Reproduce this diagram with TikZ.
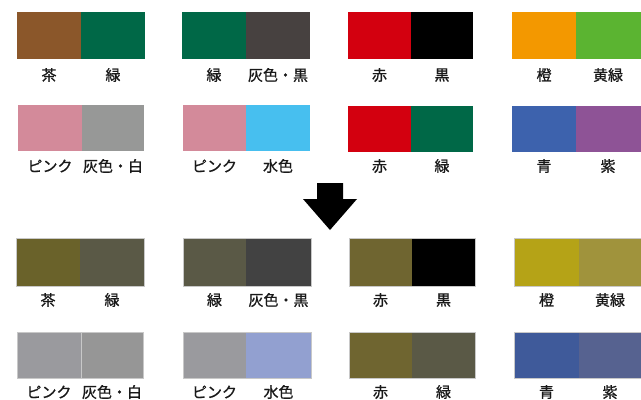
\documentclass[tikz,border=0pt]{standalone}
\usepackage{fontspec}
\newfontfamily\jp{Noto Sans CJK JP}[FakeBold=0.9]
\definecolor{cChaT}{RGB}{139,87,42}
\definecolor{cMidoriT}{RGB}{0,104,71}
\definecolor{cHaiKuroT}{RGB}{71,65,64}
\definecolor{cAkaT}{RGB}{211,0,15}
\definecolor{cKuroT}{RGB}{0,0,0}
\definecolor{cDaiT}{RGB}{243,152,0}
\definecolor{cKimidoriT}{RGB}{91,180,49}
\definecolor{cPinkT}{RGB}{211,138,154}
\definecolor{cHaiShiroT}{RGB}{151,152,151}
\definecolor{cMizuT}{RGB}{71,191,239}
\definecolor{cAoT}{RGB}{61,98,173}
\definecolor{cMurasakiT}{RGB}{142,83,150}
\definecolor{cChaB}{RGB}{106,98,42}
\definecolor{cMidoriB}{RGB}{90,89,70}
\definecolor{cHaiKuroB}{RGB}{66,66,66}
\definecolor{cAkaB}{RGB}{111,101,48}
\definecolor{cKuroB}{RGB}{0,0,0}
\definecolor{cDaiB}{RGB}{181,163,23}
\definecolor{cKimidoriB}{RGB}{160,147,60}
\definecolor{cPinkB}{RGB}{154,154,158}
\definecolor{cHaiShiroB}{RGB}{150,150,150}
\definecolor{cMizuB}{RGB}{146,160,208}
\definecolor{cAoB}{RGB}{63,90,154}
\definecolor{cMurasakiB}{RGB}{86,98,144}
\definecolor{edgeGray}{RGB}{200,200,200}
% #1 x1, #2 xsplit, #3 x2, #4 y1, #5 y2, #6 left colour, #7 right colour
\newcommand\swTop[7]{%
  \fill[#6] (#1,#4) rectangle (#2,#5);
  \fill[#7] (#2,#4) rectangle (#3,#5);}
\newcommand\swBot[7]{%
  \fill[#6] (#1,#4) rectangle (#2,#5);
  \fill[#7] (#2,#4) rectangle (#3,#5);
  \draw[edgeGray, line width=0.6bp] (#1,#4) rectangle (#3,#5);}
\begin{document}
\begin{tikzpicture}[x=1bp,y=-1bp,
  lab/.style={font=\jp\fontsize{15bp}{15bp}\selectfont, inner sep=0pt, anchor=center, text=black!90}]
\useasboundingbox[fill=white] (0,0) rectangle (641,399);
% ---- top, row 1
\swTop{17}{81}{145}{12}{59}{cChaT}{cMidoriT}
\swTop{182}{246}{310}{12}{59}{cMidoriT}{cHaiKuroT}
\swTop{348}{411}{473}{12}{59}{cAkaT}{cKuroT}
\swTop{512}{576}{641}{12}{59}{cDaiT}{cKimidoriT}
\node[lab] (t1a) at (49,75) {茶};
\node[lab] (t1b) at (113,75) {緑};
\node[lab] (t2a) at (214,75) {緑};
\node[lab] (t2b) at (278,75) {灰色・黒};
\node[lab] (t3a) at (379.5,75) {赤};
\node[lab] (t3b) at (442,75) {黒};
\node[lab] (t4a) at (544,75) {橙};
\node[lab] (t4b) at (608,75) {黄緑};
% ---- top, row 2
\swTop{18}{82}{144}{105}{151}{cPinkT}{cHaiShiroT}
\swTop{183}{246}{310}{105}{151}{cPinkT}{cMizuT}
\swTop{348}{411}{473}{106}{152}{cAkaT}{cMidoriT}
\swTop{512}{576}{641}{106}{152}{cAoT}{cMurasakiT}
\node[lab] (t5a) at (50,166) {ピンク};
\node[lab] (t5b) at (113,166) {灰色・白};
\node[lab] (t6a) at (214.5,166) {ピンク};
\node[lab] (t6b) at (278,166) {水色};
\node[lab] (t7a) at (379.5,166) {赤};
\node[lab] (t7b) at (442,166) {緑};
\node[lab] (t8a) at (544,166) {青};
\node[lab] (t8b) at (608,166) {紫};
% ---- arrow
\fill[black] (317,183) -- (343,183) -- (343,199) -- (357,199) -- (330,230)
  -- (303,199) -- (317,199) -- cycle;
% ---- bottom, row 1
\swBot{16}{80}{144}{238}{286}{cChaB}{cMidoriB}
\swBot{183}{246}{311}{238}{286}{cMidoriB}{cHaiKuroB}
\swBot{349}{412}{475}{238}{286}{cAkaB}{cKuroB}
\swBot{514}{579}{641}{238}{286}{cDaiB}{cKimidoriB}
\node[lab] (b1a) at (48,300) {茶};
\node[lab] (b1b) at (112,300) {緑};
\node[lab] (b2a) at (214.5,300) {緑};
\node[lab] (b2b) at (278.5,300) {灰色・黒};
\node[lab] (b3a) at (380.5,300) {赤};
\node[lab] (b3b) at (443.5,300) {黒};
\node[lab] (b4a) at (546.5,300) {橙};
\node[lab] (b4b) at (610,300) {黄緑};
% ---- bottom, row 2
\swBot{17}{81}{143}{332}{378}{cPinkB}{cHaiShiroB}
\draw[edgeGray, line width=0.6bp] (81,332) -- (81,378);
\swBot{183}{246}{311}{332}{378}{cPinkB}{cMizuB}
\swBot{349}{412}{475}{332}{378}{cAkaB}{cMidoriB}
\swBot{514}{579}{641}{332}{378}{cAoB}{cMurasakiB}
\node[lab] (b5a) at (49,392) {ピンク};
\node[lab] (b5b) at (112,392) {灰色・白};
\node[lab] (b6a) at (214.5,392) {ピンク};
\node[lab] (b6b) at (278.5,392) {水色};
\node[lab] (b7a) at (380.5,392) {赤};
\node[lab] (b7b) at (443.5,392) {緑};
\node[lab] (b8a) at (546.5,392) {青};
\node[lab] (b8b) at (610,392) {紫};
\end{tikzpicture}
\end{document}
